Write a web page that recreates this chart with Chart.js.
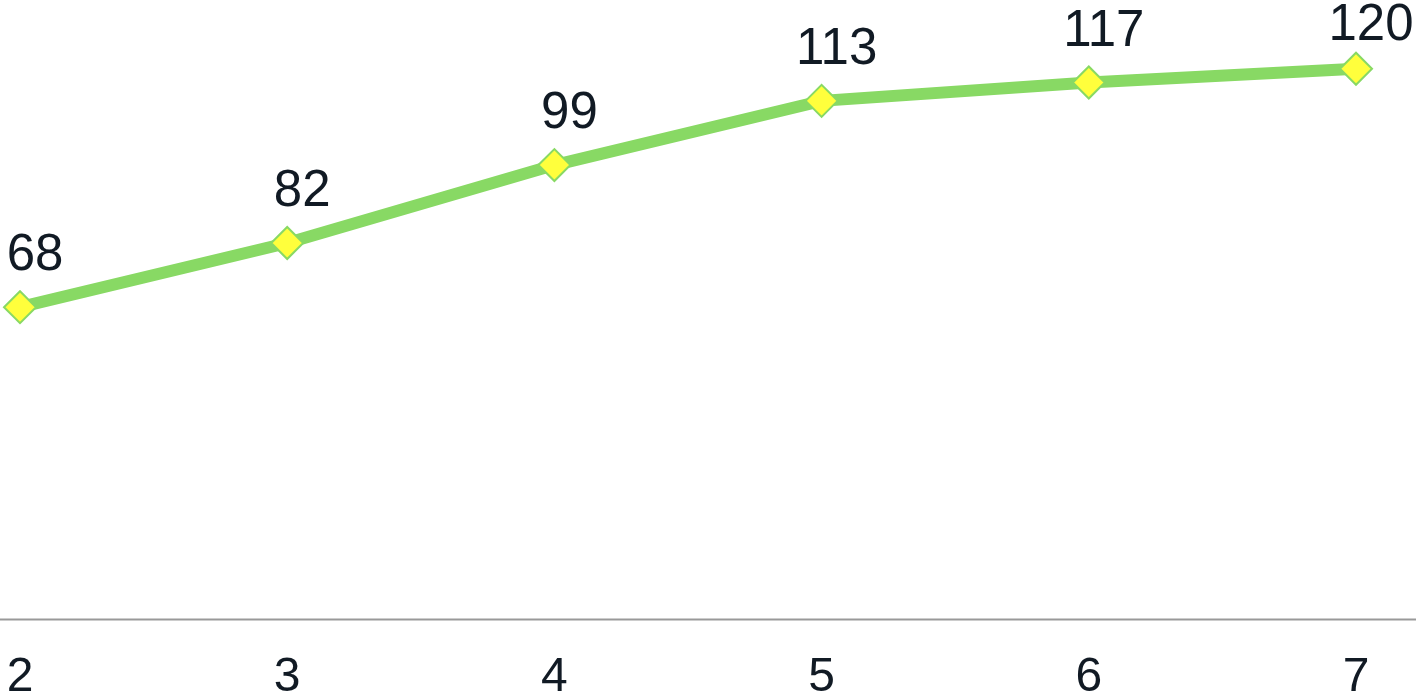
<!DOCTYPE html>
<html>
<head>
<meta charset="utf-8">
<script src="https://cdn.jsdelivr.net/npm/chart.js@4"></script>
<style>
  html, body { margin: 0; padding: 0; background: #ffffff; }
  #wrap { width: 1416px; height: 696px; }
</style>
</head>
<body>
<div id="wrap"><canvas id="grafico"></canvas></div>
<script>
// dados
const categorias = ['2', '3', '4', '5', '6', '7']
const valores = [68, 82, 99, 113, 117, 120]

const corLinha = '#88d964'
const corPonto = '#ffff3c'
const corTexto = '#111a24'

// rotulos em cima dos pontos
const rotulos = {
    id: 'rotulos',
    afterDatasetsDraw(chart) {
        const c = chart.ctx
        const meta = chart.getDatasetMeta(0)
        c.save()
        c.font = '51px "Liberation Sans", Arial, sans-serif'
        c.fillStyle = corTexto
        c.textAlign = 'center'
        c.textBaseline = 'alphabetic'
        meta.data.forEach((p, i) => {
            c.fillText(String(valores[i]), p.x + 15, Math.max(p.y - 37, 40))
        })
        c.restore()
    }
}

// linha do eixo x de ponta a ponta
const linhaEixo = {
    id: 'linhaEixo',
    beforeDatasetsDraw(chart) {
        const c = chart.ctx
        const y = Math.round(chart.scales.x.top) + 0.5
        c.save()
        c.strokeStyle = '#999999'
        c.lineWidth = 2
        c.beginPath()
        c.moveTo(0, y)
        c.lineTo(chart.width, y)
        c.stroke()
        c.restore()
    }
}

const ctx = document.getElementById('grafico')

new Chart(ctx, {
    type: 'line',
    data: {
        labels: categorias,
        datasets: [{
            data: valores,
            borderColor: corLinha,
            borderWidth: 12,
            tension: 0,
            clip: false,
            pointStyle: 'rectRot',
            pointRadius: 16,
            pointHoverRadius: 16,
            pointBackgroundColor: corPonto,
            pointBorderColor: corLinha,
            pointBorderWidth: 2
        }]
    },
    options: {
        responsive: true,
        maintainAspectRatio: false,
        animation: false,
        layout: {
            autoPadding: false,
            padding: { left: 20, right: 60, top: 0, bottom: 0 }
        },
        plugins: {
            legend: { display: false },
            tooltip: { enabled: false }
        },
        scales: {
            x: {
                offset: false,
                grid: { display: false, drawTicks: false },
                border: { display: false },
                afterFit: (s) => {
                    s.height = 77
                    s.paddingLeft = 0
                    s.paddingRight = 0
                },
                ticks: {
                    color: corTexto,
                    padding: 30,
                    maxRotation: 0,
                    font: { family: '"Liberation Sans", Arial, sans-serif', size: 48 }
                }
            },
            y: {
                display: false,
                min: 0,
                max: 135
            }
        }
    },
    plugins: [linhaEixo, rotulos]
})
</script>
</body>
</html>
